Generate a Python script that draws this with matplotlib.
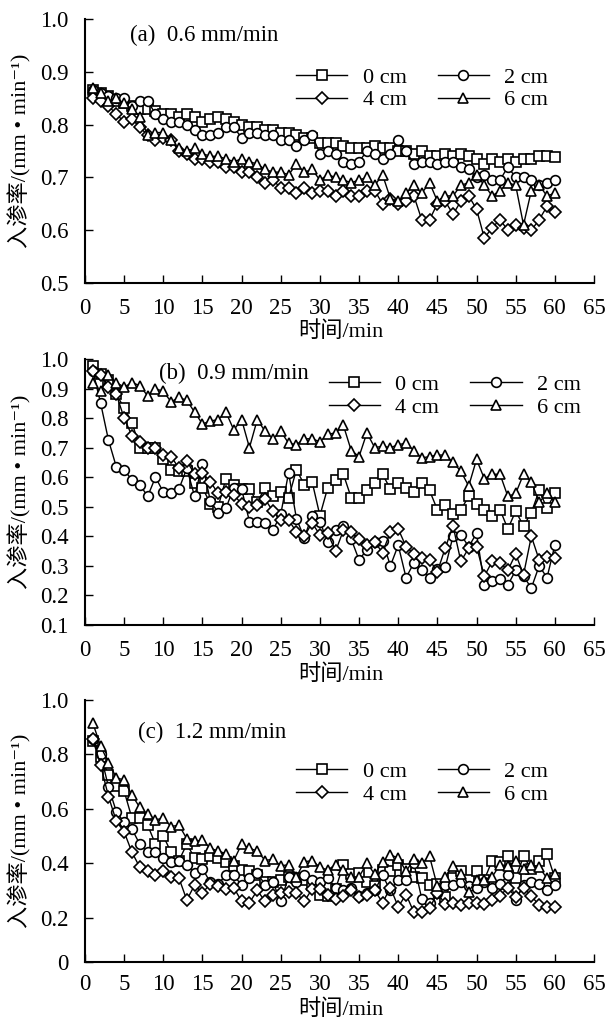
import matplotlib
matplotlib.use("Agg")
import matplotlib.pyplot as plt

plt.rcParams['font.family'] = ['Liberation Serif', 'Noto Sans CJK SC', 'DejaVu Sans']
plt.rcParams['font.size'] = 16

# 时间 (min)
minutes = list(range(1, 61))
depth_labels = ['0 cm', '2 cm', '4 cm', '6 cm']
markers = ['s', 'o', 'D', '^']

# (a) 0.6 mm/min
a_0cm = [0.865, 0.86, 0.855, 0.845, 0.84, 0.835, 0.83, 0.83, 0.825, 0.82,
         0.82, 0.815, 0.82, 0.815, 0.805, 0.81, 0.815, 0.81, 0.805, 0.80,
         0.795, 0.795, 0.79, 0.79, 0.785, 0.785, 0.78, 0.775, 0.775, 0.765,
         0.765, 0.765, 0.76, 0.755, 0.755, 0.755, 0.76, 0.755, 0.755, 0.75,
         0.75, 0.745, 0.75, 0.74, 0.74, 0.745, 0.74, 0.745, 0.74, 0.735,
         0.725, 0.735, 0.73, 0.735, 0.73, 0.735, 0.735, 0.74, 0.74, 0.738]
a_2cm = [0.865, 0.86, 0.855, 0.85, 0.85, 0.835, 0.845, 0.845, 0.82, 0.81,
         0.805, 0.805, 0.80, 0.79, 0.78, 0.78, 0.785, 0.795, 0.795, 0.775,
         0.785, 0.785, 0.78, 0.78, 0.77, 0.77, 0.76, 0.77, 0.78, 0.745,
         0.75, 0.745, 0.73, 0.725, 0.73, 0.75, 0.745, 0.735, 0.745, 0.77,
         0.75, 0.725, 0.73, 0.73, 0.725, 0.73, 0.73, 0.72, 0.715, 0.70,
         0.705, 0.695, 0.695, 0.72, 0.70, 0.70, 0.695, 0.685, 0.69, 0.695]
a_4cm = [0.85, 0.845, 0.835, 0.82, 0.805, 0.81, 0.795, 0.78, 0.77, 0.775,
         0.77, 0.75, 0.745, 0.735, 0.735, 0.73, 0.73, 0.72, 0.72, 0.71,
         0.71, 0.70, 0.69, 0.695, 0.68, 0.68, 0.67, 0.68, 0.67, 0.675,
         0.675, 0.665, 0.675, 0.665, 0.665, 0.675, 0.675, 0.65, 0.66, 0.65,
         0.655, 0.665, 0.62, 0.62, 0.65, 0.655, 0.63, 0.655, 0.665, 0.64,
         0.585, 0.605, 0.62, 0.60, 0.61, 0.605, 0.60, 0.62, 0.645, 0.635]
a_6cm = [0.87, 0.86, 0.845, 0.85, 0.84, 0.83, 0.815, 0.78, 0.785, 0.785,
         0.77, 0.755, 0.75, 0.755, 0.745, 0.74, 0.74, 0.735, 0.73, 0.735,
         0.73, 0.725, 0.715, 0.71, 0.71, 0.705, 0.725, 0.71, 0.715, 0.695,
         0.705, 0.70, 0.695, 0.69, 0.695, 0.70, 0.685, 0.705, 0.66, 0.655,
         0.67, 0.685, 0.67, 0.69, 0.655, 0.665, 0.665, 0.685, 0.69, 0.705,
         0.685, 0.665, 0.675, 0.69, 0.685, 0.61, 0.675, 0.685, 0.665, 0.67]

# (b) 0.9 mm/min
b_0cm = [0.975, 0.95, 0.93, 0.88, 0.835, 0.785, 0.70, 0.70, 0.70, 0.66,
         0.625, 0.62, 0.62, 0.58, 0.565, 0.51, 0.50, 0.595, 0.575, 0.56,
         0.56, 0.515, 0.565, 0.535, 0.55, 0.53, 0.625, 0.575, 0.585, 0.47,
         0.565, 0.59, 0.61, 0.53, 0.53, 0.555, 0.58, 0.61, 0.56, 0.58,
         0.565, 0.55, 0.58, 0.555, 0.49, 0.505, 0.475, 0.49, 0.535, 0.51,
         0.49, 0.47, 0.49, 0.425, 0.485, 0.435, 0.48, 0.555, 0.495, 0.545]
b_2cm = [0.96, 0.85, 0.725, 0.635, 0.625, 0.59, 0.575, 0.535, 0.60, 0.55,
         0.545, 0.56, 0.63, 0.535, 0.645, 0.52, 0.48, 0.495, 0.565, 0.56,
         0.45, 0.45, 0.445, 0.42, 0.475, 0.615, 0.46, 0.395, 0.47, 0.45,
         0.38, 0.42, 0.435, 0.39, 0.32, 0.355, 0.38, 0.385, 0.30, 0.37,
         0.26, 0.31, 0.285, 0.26, 0.29, 0.295, 0.40, 0.405, 0.365, 0.41,
         0.235, 0.25, 0.255, 0.235, 0.285, 0.265, 0.225, 0.30, 0.26, 0.37]
b_4cm = [0.96, 0.945, 0.905, 0.88, 0.80, 0.74, 0.72, 0.70, 0.70, 0.675,
         0.67, 0.63, 0.655, 0.61, 0.615, 0.585, 0.545, 0.55, 0.54, 0.51,
         0.50, 0.505, 0.525, 0.485, 0.455, 0.455, 0.415, 0.40, 0.445, 0.405,
         0.41, 0.35, 0.42, 0.415, 0.39, 0.37, 0.38, 0.345, 0.415, 0.425,
         0.365, 0.34, 0.325, 0.32, 0.28, 0.36, 0.435, 0.315, 0.36, 0.365,
         0.265, 0.315, 0.31, 0.285, 0.34, 0.27, 0.40, 0.32, 0.33, 0.325]
b_6cm = [0.92, 0.89, 0.945, 0.92, 0.905, 0.92, 0.91, 0.875, 0.90, 0.89,
         0.855, 0.87, 0.86, 0.82, 0.78, 0.79, 0.795, 0.82, 0.76, 0.795,
         0.70, 0.795, 0.755, 0.73, 0.755, 0.715, 0.71, 0.73, 0.73, 0.72,
         0.745, 0.75, 0.775, 0.69, 0.67, 0.75, 0.70, 0.705, 0.70, 0.71,
         0.715, 0.69, 0.665, 0.67, 0.675, 0.675, 0.65, 0.62, 0.57, 0.66,
         0.595, 0.61, 0.61, 0.535, 0.545, 0.61, 0.585, 0.515, 0.545, 0.515]

# (c) 1.2 mm/min
c_0cm = [0.85, 0.79, 0.725, 0.685, 0.665, 0.565, 0.565, 0.54, 0.47, 0.50,
         0.44, 0.41, 0.47, 0.42, 0.415, 0.425, 0.42, 0.405, 0.39, 0.375,
         0.37, 0.355, 0.33, 0.33, 0.34, 0.35, 0.345, 0.34, 0.32, 0.285,
         0.28, 0.305, 0.395, 0.36, 0.365, 0.33, 0.315, 0.375, 0.37, 0.395,
         0.38, 0.35, 0.345, 0.32, 0.325, 0.275, 0.345, 0.37, 0.34, 0.37,
         0.34, 0.41, 0.405, 0.425, 0.345, 0.425, 0.38, 0.41, 0.435, 0.345]
c_2cm = [0.855, 0.80, 0.68, 0.59, 0.55, 0.525, 0.47, 0.44, 0.44, 0.42,
         0.405, 0.41, 0.395, 0.365, 0.38, 0.33, 0.325, 0.355, 0.355, 0.32,
         0.345, 0.365, 0.32, 0.33, 0.26, 0.35, 0.33, 0.355, 0.34, 0.33,
         0.345, 0.31, 0.30, 0.31, 0.28, 0.29, 0.30, 0.355, 0.30, 0.34,
         0.34, 0.40, 0.27, 0.255, 0.29, 0.32, 0.32, 0.33, 0.315, 0.31,
         0.33, 0.31, 0.325, 0.355, 0.265, 0.32, 0.33, 0.325, 0.30, 0.32]
c_4cm = [0.855, 0.76, 0.645, 0.555, 0.515, 0.44, 0.385, 0.37, 0.355, 0.37,
         0.35, 0.345, 0.265, 0.32, 0.29, 0.325, 0.315, 0.305, 0.31, 0.26,
         0.255, 0.30, 0.26, 0.285, 0.29, 0.295, 0.29, 0.26, 0.305, 0.305,
         0.285, 0.27, 0.28, 0.30, 0.275, 0.285, 0.30, 0.255, 0.31, 0.24,
         0.285, 0.22, 0.22, 0.235, 0.29, 0.25, 0.255, 0.245, 0.255, 0.255,
         0.25, 0.265, 0.28, 0.31, 0.275, 0.31, 0.28, 0.245, 0.24, 0.24]
c_6cm = [0.915, 0.83, 0.77, 0.715, 0.705, 0.65, 0.605, 0.58, 0.56, 0.565,
         0.535, 0.54, 0.49, 0.48, 0.485, 0.455, 0.445, 0.435, 0.41, 0.47,
         0.455, 0.445, 0.41, 0.415, 0.39, 0.395, 0.35, 0.405, 0.41, 0.385,
         0.375, 0.395, 0.375, 0.35, 0.35, 0.40, 0.36, 0.405, 0.43, 0.42,
         0.37, 0.415, 0.40, 0.425, 0.315, 0.35, 0.39, 0.36, 0.295, 0.34,
         0.34, 0.35, 0.395, 0.39, 0.41, 0.38, 0.395, 0.385, 0.345, 0.36]

panels = [
    dict(title='(a)  0.6 mm/min', series=[a_0cm, a_2cm, a_4cm, a_6cm],
         ylim=(0.5, 1.0), yticks=[0.5, 0.6, 0.7, 0.8, 0.9, 1.0],
         yticklabels=['0.5', '0.6', '0.7', '0.8', '0.9', '1.0'],
         rect=[0.1405, 0.7228, 0.8413, 0.2586], xlabel_y=-0.146, xpad=11,
         title_xy=(0.088, 0.936), legend_xy=(0.4145, 0.818)),
    dict(title='(b)  0.9 mm/min', series=[b_0cm, b_2cm, b_4cm, b_6cm],
         ylim=(0.1, 1.0), yticks=[0.1, 0.2, 0.3, 0.4, 0.5, 0.6, 0.7, 0.8, 0.9, 1.0],
         yticklabels=['0.1', '0.2', '0.3', '0.4', '0.5', '0.6', '0.7', '0.8', '0.9', '1.0'],
         rect=[0.1405, 0.3879, 0.8413, 0.2605], xlabel_y=-0.146, xpad=11,
         title_xy=(0.145, 0.944), legend_xy=(0.479, 0.942)),
    # 原图 (c) 横轴并不在 0 处, 标签 "0" 挂在轴线上
    dict(title='(c)  1.2 mm/min', series=[c_0cm, c_2cm, c_4cm, c_6cm],
         ylim=(0.037, 1.0), yticks=[0.037, 0.2, 0.4, 0.6, 0.8, 1.0],
         yticklabels=['0', '0.2', '0.4', '0.6', '0.8', '1.0'],
         rect=[0.1405, 0.0578, 0.8413, 0.2566], xlabel_y=-0.142, xpad=9,
         title_xy=(0.104, 0.876), legend_xy=(0.4145, 0.766)),
]


def draw_panel(fig, p):
    ax = fig.add_axes(p['rect'])
    handles = []
    for vals, mk, lab in zip(p['series'], markers, depth_labels):
        ms = 6.2 if mk == 'D' else 7
        h, = ax.plot(minutes, vals, color='black', lw=1.0, marker=mk, ms=ms,
                     mfc='white', mec='black', mew=1.2, label=lab, clip_on=False)
        handles.append(h)

    ax.set_xlim(0, 65)
    ax.set_xticks(range(0, 66, 5))
    ax.set_ylim(*p['ylim'])
    ax.set_yticks(p['yticks'])
    ax.set_yticklabels(p['yticklabels'])

    for side in ['top', 'right']:
        ax.spines[side].set_visible(False)
    for side in ['left', 'bottom']:
        ax.spines[side].set_linewidth(1.5)
    ax.tick_params(direction='in', length=6, width=1.0, pad=12, labelsize=16.5)
    ax.tick_params(axis='x', pad=p['xpad'])

    ax.set_xlabel('时间/min', fontsize=16)
    ax.xaxis.set_label_coords(0.503, p['xlabel_y'])
    ax.set_ylabel('入渗率/(mm • min⁻¹)', fontsize=16)
    ax.yaxis.set_label_coords(-0.106, 0.5)

    ax.text(p['title_xy'][0], p['title_xy'][1], p['title'], transform=ax.transAxes,
            fontsize=16.5, ha='left', va='center')

    # 图例两行两列: 0 cm / 2 cm, 4 cm / 6 cm
    order = [0, 2, 1, 3]
    ax.legend([handles[i] for i in order], [depth_labels[i] for i in order],
              ncol=2, loc='upper left', bbox_to_anchor=p['legend_xy'],
              frameon=False, borderpad=0, borderaxespad=0, fontsize=16,
              handlelength=2.3, handletextpad=0.7, columnspacing=1.4,
              labelspacing=0.1)
    return ax


def main():
    fig = plt.figure(figsize=(6.05, 10.21), dpi=100)
    for p in panels:
        draw_panel(fig, p)
    fig.savefig('out.png', dpi=100)


if __name__ == "__main__":
    main()
